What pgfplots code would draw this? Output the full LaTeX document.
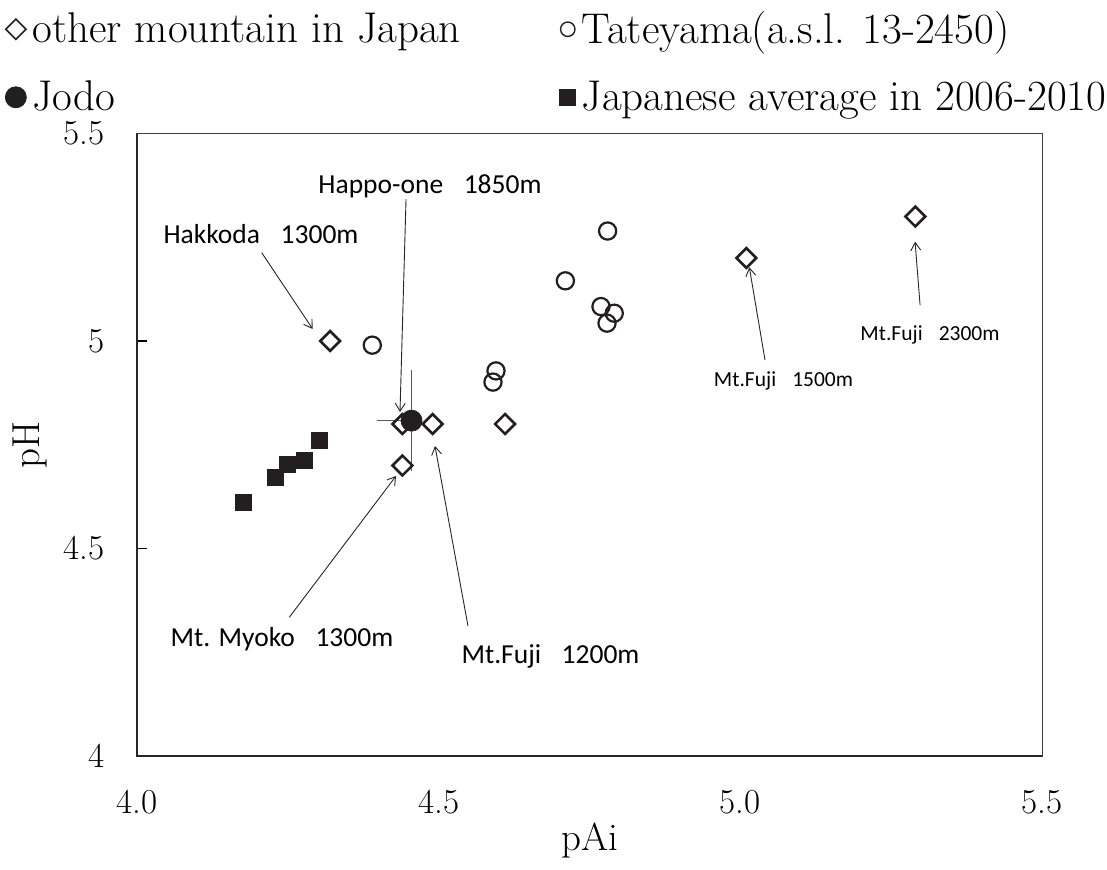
\documentclass[border=0pt]{standalone}
\usepackage{fontspec}
\usepackage{pgfplots}
\pgfplotsset{compat=1.18}
\usetikzlibrary{arrows.meta}
\newfontfamily\calib{Carlito}
\definecolor{mk}{HTML}{231F20}
\tikzset{
  arr/.style={line width=0.45pt, black!85, -{Straight Barb[length=4pt,width=5pt]}},
  lab/.style={font=\calib\fontsize{13.75pt}{16pt}\selectfont, anchor=base, inner sep=0pt},
  labs/.style={font=\calib\fontsize{10.75pt}{13pt}\selectfont, anchor=base, inner sep=0pt},
}
\pgfplotsset{
  legsm/.style 2 args={legend image code/.code={\draw[##1, mark size=#1, line width=#2] plot coordinates {(0pt,0pt)};}},
  legpt/.style={legend image code/.code={\draw[##1] plot coordinates {(0pt,0pt)};}},
}

\begin{document}
\begin{tikzpicture}
\begin{axis}[
  at={(0pt,0pt)}, anchor=south west,
  scale only axis, width=452.5pt, height=311.25pt,
  xmin=4, xmax=5.5, ymin=4, ymax=5.5,
  xtick={4,4.5,5,5.5}, ytick={4,4.5,5,5.5},
  xticklabels={4.0,4.5,5.0,5.5},
  yticklabels={4,4.5,5,5.5},
  tick label style={font=\fontsize{17.5pt}{20pt}\selectfont},
  xticklabel style={anchor=center, yshift=-23pt},
  yticklabel style={anchor=east, inner sep=0pt, xshift=-16pt},
  tick align=inside, ytick pos=left, xtick pos=bottom,
  major tick length=5pt,
  xtick style={draw=none},
  ytick style={line width=0.6pt, black},
  axis line style={line width=0.5pt, black!75},
  extra description/.code={\draw[line width=1.1pt, black!85] (rel axis cs:0,1) -- (rel axis cs:0,0) -- (rel axis cs:1,0);},
  xlabel={pAi}, ylabel={pH},
  label style={font=\fontsize{19.5pt}{22pt}\selectfont},
  xlabel style={at={(axis description cs:0.5,-0.135)}, anchor=center},
  ylabel style={at={(axis description cs:-0.118,0.5)}, anchor=center},
  clip=false,
  legend columns=2,
  legend cell align=left,
  legend style={at={(axis description cs:-0.1459,1.198)}, anchor=north west,
    draw=none, fill=none, inner sep=0pt,
    font=\fontsize{21.5pt}{24pt}\selectfont, row sep=16pt,
    nodes={inner sep=0.5pt},
    /tikz/every odd column/.append style={column sep=2.5pt},
    /tikz/every even column/.append style={column sep=49pt}},
]
% other mountain in Japan
\addplot[only marks, mark=square, mark options={rotate=45}, mark size=3.5pt,
  line width=1.3pt, draw=mk, legsm={3.6pt}{0.8pt}]
  coordinates {(4.32,5.00) (4.44,4.80) (4.49,4.80) (4.44,4.70) (4.61,4.80) (5.01,5.20) (5.29,5.30)};
\addlegendentry{other mountain in Japan}
% Tateyama
\addplot[only marks, mark=o, mark size=4.3pt, line width=1.1pt, draw=mk, legsm={3.6pt}{0.7pt}]
  coordinates {(4.39,4.99) (4.78,5.265) (4.71,5.145) (4.769,5.083) (4.791,5.067) (4.779,5.043) (4.595,4.928) (4.59,4.901)};
\addlegendentry{Tateyama(a.s.l. 13-2450)}
% Jodo
\addplot[only marks, mark=*, mark size=5.25pt, draw=mk, fill=mk, legpt,
  error bars/.cd, y dir=both, y explicit, x dir=minus, x explicit,
  error bar style={line width=0.6pt, black!65},
  error mark options={mark size=2.3pt, line width=0.6pt, black!65},
  ]
  coordinates {(4.455,4.808) +- (0.05,0.11)};
\addlegendentry{Jodo}
% Japanese average
\addplot[only marks, mark=square*, mark size=4pt, draw=mk, fill=mk, legpt]
  coordinates {(4.177,4.610) (4.229,4.671) (4.250,4.702) (4.278,4.712) (4.303,4.761)};
\addlegendentry{Japanese average in 2006-2010}

% annotations
\draw[arr] (axis cs:4.2067,5.2128) -- (axis cs:4.2912,5.0289);
\node[lab] at (axis cs:4.2055,5.2361) {Hakkoda\hspace{0.75em}1300m};
\draw[arr] (axis cs:4.4459,5.3422) -- (axis cs:4.4359,4.8289);
\node[lab] at (axis cs:4.4857,5.3566) {Happo-one\hspace{0.75em}1850m};
\draw[arr] (axis cs:4.2524,4.3342) -- (axis cs:4.4293,4.6747);
\node[lab] at (axis cs:4.2403,4.2627) {Mt. Myoko\hspace{0.75em}1300m};
\draw[arr] (axis cs:4.5486,4.3133) -- (axis cs:4.4939,4.747);
\node[lab] at (axis cs:4.6854,4.2241) {Mt.Fuji\hspace{0.75em}1200m};
\draw[arr] (axis cs:5.0409,4.9542) -- (axis cs:5.0149,5.1776);
\node[labs] at (axis cs:5.0716,4.8892) {Mt.Fuji\hspace{0.75em}1500m};
\draw[arr] (axis cs:5.2979,5.0867) -- (axis cs:5.2896,5.2393);
\node[labs] at (axis cs:5.3144,5.0007) {Mt.Fuji\hspace{0.75em}2300m};
\end{axis}
\pgfresetboundingbox
\path[use as bounding box] (-68.5pt,-56.5pt) rectangle (485pt,378pt);
\end{tikzpicture}
\end{document}
